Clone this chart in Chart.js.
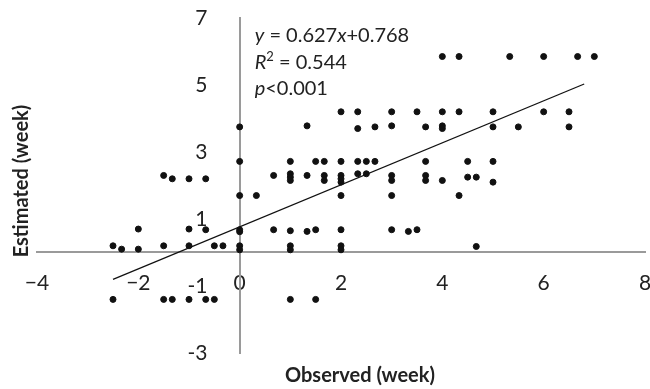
<!DOCTYPE html>
<html>
<head>
<meta charset="utf-8">
<script src="https://cdn.jsdelivr.net/npm/chart.js@4.4.0/dist/chart.umd.min.js"></script>
<style>
  html, body { margin: 0; padding: 0; background: #fff; }
</style>
</head>
<body>
<canvas id="scatterChart" width="650" height="389"></canvas>
<script>
// observed vs estimated (weeks)
const observed = [
  4, 4.33, 5.33, 6, 6.67, 7,
  2, 2.33, 3, 3.5, 4, 4.33, 5, 6, 6.5,
  0, 1.33, 2.33, 2.67, 3, 3.67, 4, 4, 5, 5.5, 6.5,
  0, 1, 1.5, 1.67, 2, 2.33, 2.5, 2.67, 3.67, 4.5, 5,
  -1.5, -1.33, -1, -0.67, 0.67, 1, 1, 1, 1.33, 1.67, 1.67, 2, 2, 2, 2.33, 2.5, 3, 3, 3.67, 3.67, 4, 4.5, 4.67, 5,
  0, 0.33, 2, 3, 4.33,
  -2, -1, -0.67, 0, 0, 0.67, 1, 1.33, 1.5, 2, 3, 3.33, 3.5,
  -2.5, -2.33, -2, -1.5, -1, -0.5, -0.33, 0, 0, 1, 1, 2, 2, 4.67,
  -2.5, -1.5, -1.33, -1, -0.67, -0.5, 1, 1.5
];
const estimated = [
  5.85, 5.85, 5.85, 5.85, 5.85, 5.85,
  4.2, 4.2, 4.2, 4.2, 4.2, 4.2, 4.2, 4.2, 4.2,
  3.75, 3.78, 3.7, 3.75, 3.78, 3.75, 3.78, 3.7, 3.75, 3.75, 3.75,
  2.72, 2.72, 2.72, 2.72, 2.72, 2.72, 2.72, 2.72, 2.72, 2.72, 2.72,
  2.3, 2.2, 2.2, 2.2, 2.3, 2.35, 2.25, 2.15, 2.3, 2.3, 2.15, 2.3, 2.2, 2.1, 2.35, 2.35, 2.3, 2.15, 2.3, 2.15, 2.15, 2.25, 2.25, 2.1,
  1.7, 1.7, 1.7, 1.7, 1.7,
  0.7, 0.7, 0.68, 0.68, 0.62, 0.68, 0.65, 0.63, 0.68, 0.68, 0.68, 0.63, 0.68,
  0.2, 0.1, 0.1, 0.2, 0.2, 0.2, 0.2, 0.2, 0.08, 0.2, 0.08, 0.2, 0.08, 0.18,
  -1.4, -1.4, -1.4, -1.4, -1.4, -1.4, -1.4, -1.4
];
// fitted line y = 0.627x + 0.768, end points as drawn
const trendX = [-2.5, 6.8];
const trendY = [-0.8, 5.03];

const points = observed.map((x, i) => ({ x: x, y: estimated[i] }));
const trend = trendX.map((x, i) => ({ x: x, y: trendY[i] }));

const textColor = '#222';
const axisColor = '#9a9a9a';

// axis titles + regression text
const textPlugin = {
  id: 'textPlugin',
  afterDraw(chart) {
    const ctx = chart.ctx;
    const area = chart.chartArea;
    const x0 = chart.scales.x.getPixelForValue(0);
    ctx.save();
    ctx.fillStyle = textColor;
    ctx.font = 'bold 20px Lato';
    ctx.textAlign = 'center';
    ctx.textBaseline = 'middle';
    ctx.fillText('Observed (week)', 360, area.bottom + 23);
    ctx.translate(22, 181);
    ctx.rotate(-Math.PI / 2);
    ctx.fillText('Estimated (week)', 0, 0);
    ctx.restore();

    const lines = [
      [['y', 'italic'], [' = 0.627', ''], ['x', 'italic'], ['+0.768', '']],
      [['R', 'italic'], ['2', 'sup'], [' = 0.544', '']],
      [['p', 'italic'], ['<0.001', '']]
    ];
    ctx.save();
    ctx.fillStyle = textColor;
    ctx.textAlign = 'left';
    ctx.textBaseline = 'alphabetic';
    let y = area.top + 24;
    lines.forEach(parts => {
      let x = x0 + 15;
      parts.forEach(([t, style]) => {
        let dy = 0;
        if (style === 'italic') ctx.font = 'italic 20px Lato';
        else if (style === 'sup') { ctx.font = '13px Lato'; dy = -8; }
        else ctx.font = '20px Lato';
        ctx.fillText(t, x, y + dy);
        x += ctx.measureText(t).width;
      });
      y += 26.5;
    });
    ctx.restore();
  }
};

new Chart(document.getElementById('scatterChart'), {
  type: 'scatter',
  data: {
    datasets: [{
      label: 'Cases',
      data: points,
      backgroundColor: '#111',
      borderColor: '#111',
      pointRadius: 3,
      pointHoverRadius: 3
    }, {
      type: 'line',
      label: 'Trend',
      data: trend,
      borderColor: '#111',
      borderWidth: 1.3,
      pointRadius: 0,
      fill: false
    }]
  },
  options: {
    responsive: false,
    animation: false,
    devicePixelRatio: 1,
    layout: { padding: { left: 37, right: 5, top: 18, bottom: 36 } },
    plugins: {
      legend: { display: false },
      tooltip: { enabled: false }
    },
    scales: {
      x: {
        type: 'linear',
        position: { y: 0 },
        min: -4,
        max: 8,
        afterFit: s => { s.height = 0; s.paddingLeft = 0; s.paddingRight = 0; },
        grid: { display: false, drawTicks: false },
        border: { display: true, color: axisColor, width: 2 },
        ticks: {
          stepSize: 2,
          padding: 18,
          color: textColor,
          font: { family: 'Lato', size: 21 },
          maxRotation: 0,
          callback: v => (v < 0 ? '\u2212' + Math.abs(v) : String(v))
        }
      },
      y: {
        type: 'linear',
        position: { x: 0 },
        min: -3,
        max: 7,
        afterFit: s => { s.width = 0; s.paddingTop = 0; s.paddingBottom = 0; },
        grid: { display: false, drawTicks: false },
        border: { display: true, color: axisColor, width: 2 },
        ticks: {
          stepSize: 2,
          color: textColor,
          font: { family: 'Lato', size: 21 },
          // labels sit on the crossing axis, keep a gap to its left
          callback: v => String(v) + '      '
        }
      }
    }
  },
  plugins: [textPlugin]
});
</script>
</body>
</html>
